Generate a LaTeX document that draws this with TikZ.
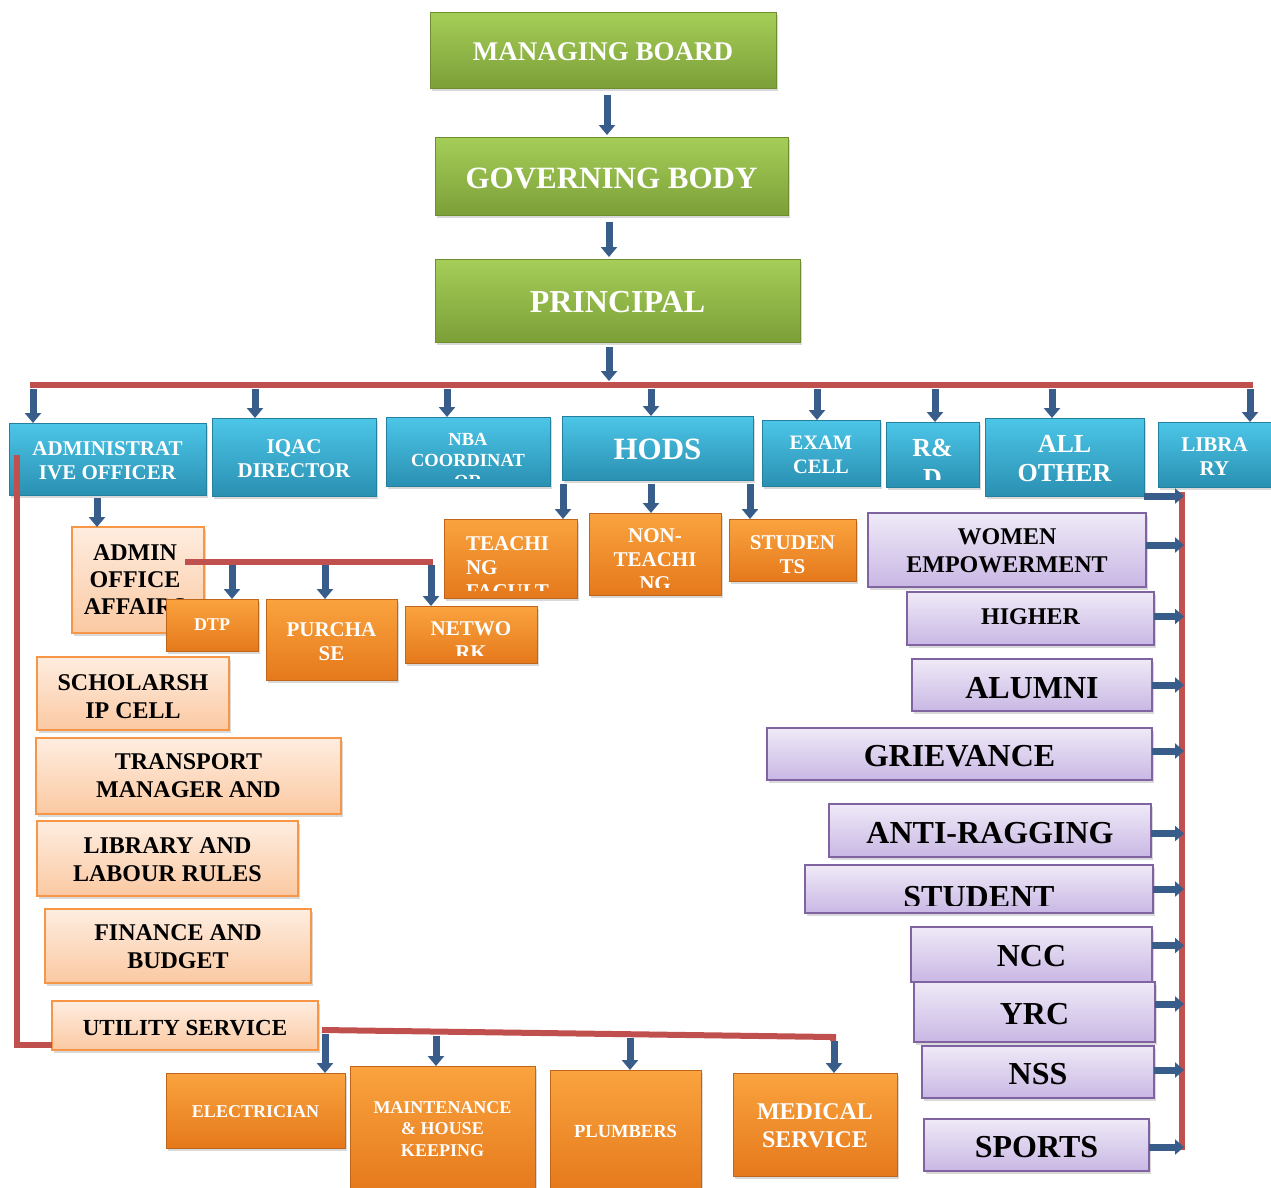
\documentclass[tikz,border=0pt]{standalone}
\usepackage{fontspec}
\setmainfont{Liberation Serif}
\usetikzlibrary{arrows.meta, fit, shadows, calc}

\definecolor{greentop}{HTML}{A5CE58}
\definecolor{greenbot}{HTML}{7C9F38}
\definecolor{greenedge}{HTML}{6E8E30}
\definecolor{bluetop}{HTML}{4CC6E8}
\definecolor{bluebot}{HTML}{2A90B2}
\definecolor{blueedge}{HTML}{25809E}
\definecolor{orangetop}{HTML}{FAA33F}
\definecolor{orangebot}{HTML}{E5791C}
\definecolor{orangeedge}{HTML}{C0661A}
\definecolor{peachtop}{HTML}{FEEDE0}
\definecolor{peachbot}{HTML}{FBC9A2}
\definecolor{peachedge}{HTML}{F79646}
\definecolor{purpletop}{HTML}{EFEAF7}
\definecolor{purplebot}{HTML}{C9B7E4}
\definecolor{purpleedge}{HTML}{8064A2}
\definecolor{linkred}{HTML}{C0504D}
\definecolor{linkblue}{HTML}{385D8A}

\tikzset{
  box/.style={rectangle, inner sep=0pt, outer sep=0pt, line width=1pt,
    drop shadow={opacity=0.3, shadow xshift=2pt, shadow yshift=-3pt}},
  greenbox/.style={box, draw=greenedge, top color=greentop, bottom color=greenbot},
  bluebox/.style={box, draw=blueedge, top color=bluetop, bottom color=bluebot},
  orangebox/.style={box, draw=orangeedge, top color=orangetop, bottom color=orangebot},
  peachbox/.style={box, line width=1.5pt, draw=peachedge, top color=peachtop, bottom color=peachbot},
  purplebox/.style={box, line width=1.5pt, draw=purpleedge, top color=purpletop, bottom color=purplebot},
  greenbox text/.style={text=white, align=center, inner sep=0pt},
  bluebox text/.style={text=white, align=center, inner sep=0pt},
  orangebox text/.style={text=white, align=center, inner sep=0pt},
  peachbox text/.style={text=black, align=center, inner sep=0pt},
  purplebox text/.style={text=black, align=center, inner sep=0pt},
  fsz/.style 2 args={font=\bfseries\fontsize{#1}{#2}\selectfont},
  redline/.style={draw=linkred, line width=6pt},
  downarrow/.style={draw=linkblue, line width=7pt, -{Triangle[width=16pt,length=10pt]}},
  rightarrow/.style={draw=linkblue, line width=7pt, -{Triangle[width=15pt,length=9pt]}}
}

% box from two corners, text clipped to the box
\newcommand{\orgbox}[6]{%
  \node[#1, fit={(#3) (#4)}] (#2) {};
  \begin{scope}
    \clip ([xshift=3pt,yshift=-3pt]#2.north west) rectangle ([xshift=-3pt,yshift=8pt]#2.south east);
    \node[#1 text, #5] at (#2.center) {#6};
  \end{scope}}

\begin{document}
\begin{tikzpicture}[x=1pt, y=-1pt]
  \useasboundingbox (0,0) rectangle (1271,1187);

  % top of the chart
  \orgbox{greenbox}{board}{430,12}{776,88}{fsz={27}{31}, yshift=-2pt}{MANAGING BOARD}
  \orgbox{greenbox}{gov}{435,137}{788,215}{fsz={31}{35}, yshift=-2pt}{GOVERNING BODY}
  \orgbox{greenbox}{principal}{435,259}{800,342}{fsz={32}{36}, yshift=-2pt}{PRINCIPAL}

  \coordinate (a1) at ([xshift=4pt]board.south);
  \draw[downarrow, shorten <=7pt, shorten >=2pt] (a1) -- (a1 |- gov.north);
  \coordinate (a2) at ([xshift=-2.5pt]gov.south);
  \draw[downarrow, shorten <=7pt, shorten >=2pt] (a2) -- (a2 |- principal.north);

  % main bus
  \coordinate (bus) at (0,381);
  \draw[redline] (30,385) -- (1253,385);
  \coordinate (a3) at ([xshift=-8.5pt]principal.south);
  \draw[downarrow, shorten <=5pt] (a3) -- (a3 |- bus);

  % second row
  \orgbox{bluebox}{admin}{9,423}{206,495}{fsz={21}{24}, yshift=-2pt}{ADMINISTRAT\\IVE OFFICER}
  \orgbox{bluebox}{iqac}{212,418}{376,496}{fsz={21}{24}, yshift=-2pt}{IQAC\\DIRECTOR}
  \orgbox{bluebox}{nba}{386,417}{550,486}{fsz={18.5}{21}, yshift=-9pt}{NBA\\COORDINAT\\OR}
  \orgbox{bluebox}{hods}{562,416}{753,480}{fsz={31}{35}, yshift=-1pt}{HODS}
  \orgbox{bluebox}{exam}{762,420}{880,486}{fsz={20.5}{24}, yshift=-2pt}{EXAM\\CELL}
  \orgbox{bluebox}{rnd}{886,422}{979,487}{fsz={26}{30}, yshift=-8pt}{R\&\\D}
  \orgbox{bluebox}{allother}{985,418}{1144,496}{fsz={26}{29}, yshift=-2pt}{ALL\\OTHER}
  \orgbox{bluebox}{library}{1158,422}{1271,487}{fsz={21}{24}, yshift=-2pt}{LIBRA\\RY}

  \foreach \x/\n in {33/admin, 255/iqac, 447/nba, 651/hods, 817/exam, 935/rnd, 1052/allother, 1250/library}{
    \coordinate (tmp) at (\x,389);
    \draw[downarrow] (tmp) -- (tmp |- \n.north);
  }

  % under HODS
  \orgbox{orangebox}{teaching}{444,519}{577,598}{fsz={21}{24}, yshift=-9pt, xshift=-3pt, align=left}{TEACHI\\NG\\FACULT}
  \orgbox{orangebox}{nonteach}{589,513}{721,595}{fsz={21}{24}, yshift=-6pt}{NON-\\TEACHI\\NG}
  \orgbox{orangebox}{students}{729,519}{856,581}{fsz={21}{24}, yshift=-5pt}{STUDEN\\TS}

  \foreach \x/\n in {563/teaching, 651/nonteach, 750/students}{
    \coordinate (tmp) at (\x,0);
    \draw[downarrow, shorten <=4pt] (tmp |- hods.south) -- (tmp |- \n.north);
  }

  % administrative side
  \orgbox{peachbox}{office}{72,527}{204,633}{fsz={24}{27}, xshift=-3pt}{ADMIN\\OFFICE\\AFFAIRS}
  \coordinate (a4) at (97,0);
  \draw[downarrow, shorten <=3pt] (a4 |- admin.south) -- (a4 |- office.north);

  \draw[redline] (185,562) -- (433,562);
  \orgbox{orangebox}{dtp}{166,599}{258,651}{fsz={18}{21}}{DTP}
  \orgbox{orangebox}{purchase}{266,599}{397,680}{fsz={21}{24}, yshift=-2pt}{PURCHA\\SE}
  \orgbox{orangebox}{network}{405,606}{537,663}{fsz={21}{24}, yshift=-6pt}{NETWO\\RK}
  \foreach \x/\n in {232/dtp, 325/purchase, 431/network}{
    \coordinate (tmp) at (\x,565);
    \draw[downarrow] (tmp) -- (tmp |- \n.north);
  }

  \orgbox{peachbox}{scholar}{37,657}{229,730}{fsz={24}{28}, yshift=-3pt}{SCHOLARSH\\IP CELL}
  \orgbox{peachbox}{transport}{36,738}{341,814}{fsz={24}{28}}{TRANSPORT\\MANAGER AND}
  \orgbox{peachbox}{labour}{37,821}{298,896}{fsz={24}{28}, yshift=-1pt}{LIBRARY AND\\LABOUR RULES}
  \orgbox{peachbox}{finance}{45,909}{311,983}{fsz={24}{28}, yshift=-1pt}{FINANCE AND\\BUDGET}
  \orgbox{peachbox}{utility}{52,1001}{318,1050}{fsz={23}{27}, yshift=-3pt}{UTILITY SERVICE}

  \draw[redline] (17,455) |- ([yshift=5pt]utility.south west);

  % utility services
  \draw[redline] (322,1030) -- (833,1037) -- (833,1041);
  \orgbox{orangebox}{electric}{166,1073}{345,1148}{fsz={18}{21}, yshift=-1pt}{ELECTRICIAN}
  \orgbox{orangebox}{maint}{350,1066}{535,1192}{fsz={18}{21.5}}{MAINTENANCE\\\& HOUSE\\KEEPING}
  \orgbox{orangebox}{plumb}{550,1070}{701,1192}{fsz={18.5}{21}}{PLUMBERS}
  \orgbox{orangebox}{medical}{733,1073}{897,1176}{fsz={24}{28}, yshift=-1pt}{MEDICAL\\SERVICE}
  \foreach \x/\n/\y in {325/electric/1034, 436/maint/1036, 630/plumb/1038, 834/medical/1041}{
    \coordinate (tmp) at (\x,\y);
    \draw[downarrow] (tmp) -- (tmp |- \n.north);
  }

  % committees on the right
  \orgbox{purplebox}{women}{868,513}{1146,587}{fsz={24}{28}, yshift=-1pt}{WOMEN\\EMPOWERMENT}
  \orgbox{purplebox}{higher}{907,592}{1154,645}{fsz={24}{28}, yshift=2pt}{HIGHER}
  \orgbox{purplebox}{alumni}{912,659}{1152,711}{fsz={32}{36}, yshift=-3pt}{ALUMNI}
  \orgbox{purplebox}{grievance}{767,728}{1152,780}{fsz={32}{36}, yshift=-2pt}{GRIEVANCE}
  \orgbox{purplebox}{antirag}{829,804}{1151,857}{fsz={32}{36}, yshift=-3pt}{ANTI-RAGGING}
  \orgbox{purplebox}{student}{805,865}{1153,913}{fsz={32}{36}, yshift=-8pt}{STUDENT}
  \orgbox{purplebox}{ncc}{911,927}{1152,982}{fsz={32}{36}, yshift=-2pt}{NCC}
  \orgbox{purplebox}{yrc}{914,982}{1155,1042}{fsz={32}{36}, yshift=-2pt}{YRC}
  \orgbox{purplebox}{nss}{922,1046}{1154,1098}{fsz={32}{36}, yshift=-2pt}{NSS}
  \orgbox{purplebox}{sports}{924,1119}{1149,1171}{fsz={32}{36}, yshift=-2pt}{SPORTS}

  \coordinate (rbus) at (1184,0);
  \draw[redline] (1182,492) -- (1182,1150);
  \draw[rightarrow] (allother.south east) -- (allother.south east -| rbus);
  \foreach \n/\s in {women/5, higher/2, alumni/0, grievance/3, antirag/-3, student/0, ncc/9, yrc/8, nss/2, sports/-2}{
    \coordinate (tmp) at ([yshift=\s pt]\n.east);
    \draw[rightarrow] (tmp) -- (tmp -| rbus);
  }
\end{tikzpicture}
\end{document}
